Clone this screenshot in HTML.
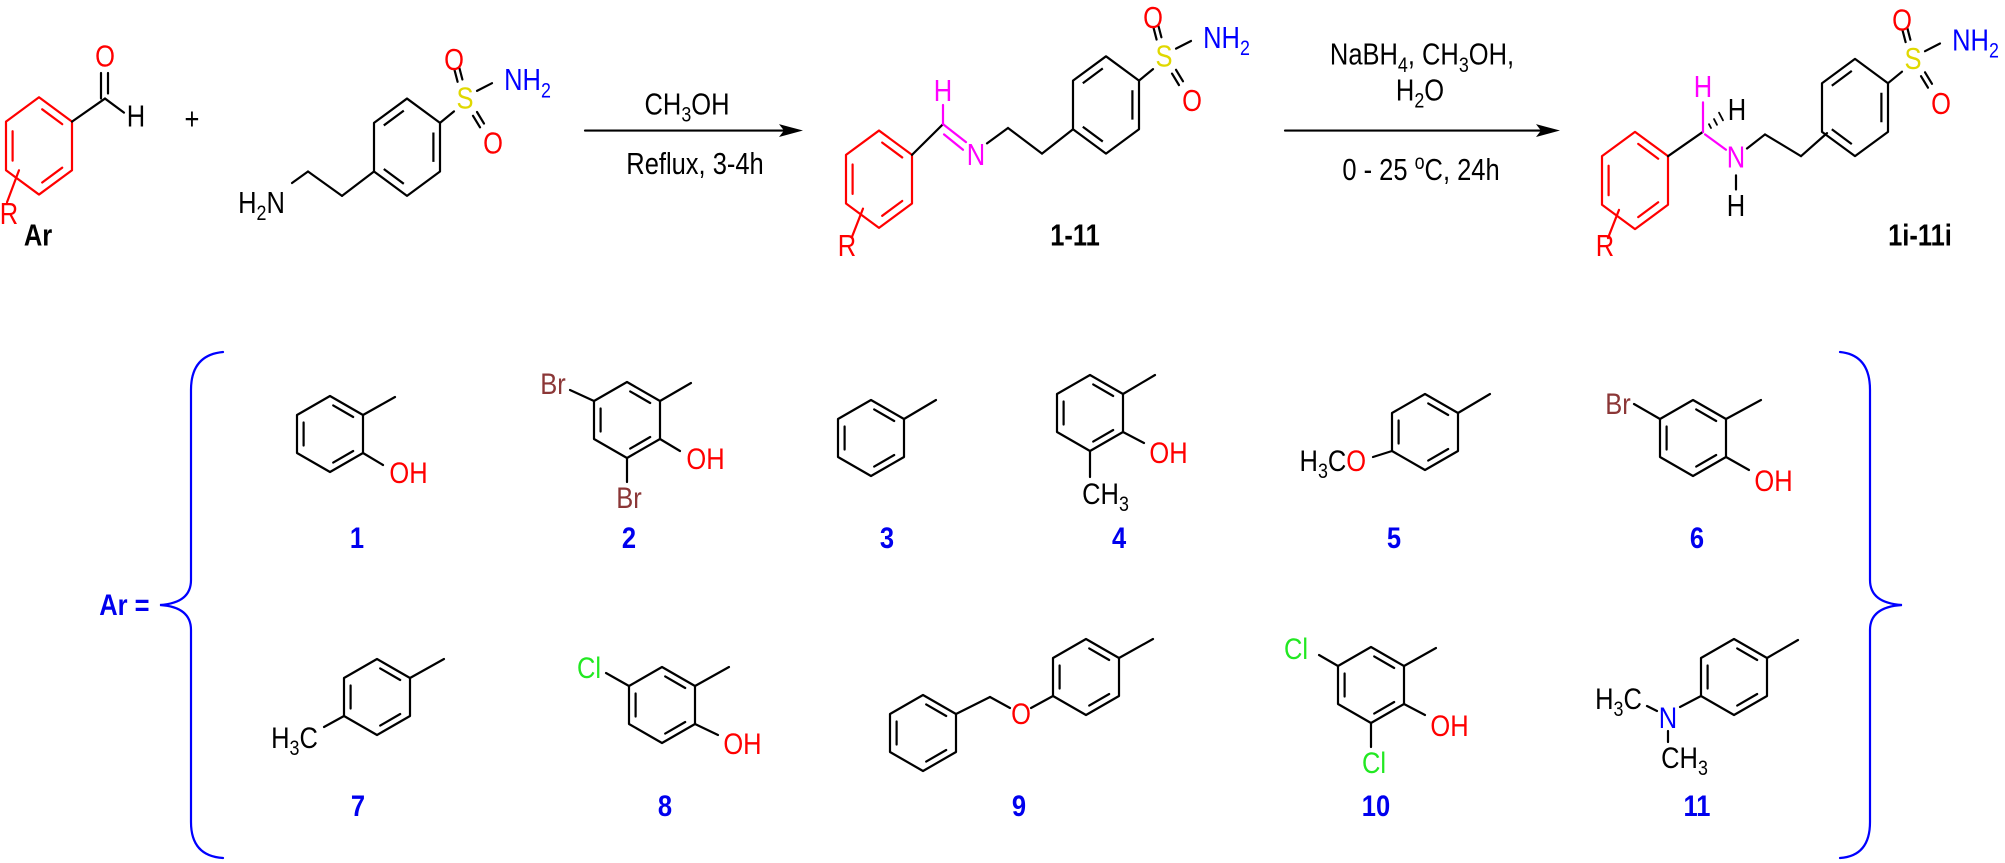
<!DOCTYPE html>
<html><head><meta charset="utf-8">
<style>
html,body{margin:0;padding:0;background:#fff;}
svg{display:block;}
svg text{font-family:"Liberation Sans",Arial,sans-serif;font-size:30px;transform-box:fill-box;transform-origin:center;transform:scaleX(0.85);}
.top text{transform:scale(0.85,0.8);}
line,polyline,path,polygon{vector-effect:non-scaling-stroke;}
.b{font-weight:bold;}
.lab{font-weight:bold;fill:#0000ee;}
.k{fill:#000}
.r{fill:#ff0000}
.m{fill:#ff00ff}
.bl{fill:#0000ff}
.y{fill:#e0d800}
.br{fill:#8b3636}
.g{fill:#22e822}
</style></head>
<body>
<svg width="2005" height="863" viewBox="0 0 2005 863" xmlns="http://www.w3.org/2000/svg">
<defs>
<g id="ringA" fill="none" stroke="currentColor" stroke-width="2.2" stroke-linejoin="round">
<path d="M0,-38 L33,-19 L33,19 L0,38 L-33,19 L-33,-19 Z"/>
<path d="M3.2,-28.6 L23.2,-17 M-26.4,-11.5 L-26.4,11.5 M3.2,28.6 L23.2,17"/>
</g>
<g id="ringB" fill="none" stroke="currentColor" stroke-width="2.2" stroke-linejoin="round">
<path d="M0,-38 L33,-19 L33,19 L0,38 L-33,19 L-33,-19 Z"/>
<path d="M-3.2,-28.6 L-23.2,-17 M26.4,-11.5 L26.4,11.5 M-3.2,28.6 L-23.2,17"/>
</g>
</defs>

<!-- ================= TOP (scaled vertically) ================= -->
<g class="top" transform="scale(1,1.28)">
<g stroke="#000" stroke-width="2.2" fill="none" stroke-linecap="round">
<use href="#ringA" x="39" y="114" color="#ff0000"/>
<line x1="7" y1="158" x2="19" y2="133" stroke="#ff0000"/>
<line x1="72" y1="95" x2="105" y2="77"/>
<line x1="101" y1="77" x2="101" y2="57"/>
<line x1="108" y1="73" x2="108" y2="57"/>
<line x1="105" y1="77" x2="124" y2="88"/>

<line x1="374" y1="134" x2="342" y2="153"/>
<line x1="342" y1="153" x2="308" y2="134"/>
<line x1="308" y1="134" x2="292" y2="143"/>

<line x1="585" y1="102" x2="790" y2="102"/>

<use href="#ringA" x="879" y="140" color="#ff0000"/>
<line x1="852" y1="185" x2="863" y2="163" stroke="#ff0000"/>
<line x1="912" y1="121" x2="943" y2="97"/>
<line x1="943" y1="97" x2="943" y2="82" stroke="#ff00ff"/>
<line x1="943" y1="97" x2="966" y2="111" stroke="#ff00ff"/>
<line x1="944" y1="105" x2="963" y2="117" stroke="#ff00ff"/>
<polyline points="987,112 1008,100 1042,120 1073,101"/>

<line x1="1285" y1="102" x2="1550" y2="102"/>

<use href="#ringA" x="1635" y="141" color="#ff0000"/>
<line x1="1608" y1="186" x2="1619" y2="164" stroke="#ff0000"/>
<line x1="1668" y1="122" x2="1703" y2="103"/>
<line x1="1703" y1="103" x2="1703" y2="80" stroke="#ff00ff"/>
<line x1="1705" y1="105" x2="1726" y2="117" stroke="#ff00ff"/>
<line x1="1709" y1="97" x2="1711" y2="100" stroke-width="1.8"/>
<line x1="1714" y1="93" x2="1717" y2="97.5" stroke-width="1.8"/>
<line x1="1719" y1="88" x2="1723" y2="94" stroke-width="1.8"/>
<line x1="1736" y1="137" x2="1736" y2="148"/>
<polyline points="1747,116 1765,105 1801,122 1827,104"/>
</g>

<polygon points="803,102 779,97 784,102 779,107" fill="#000"/>
<polygon points="1560,102 1536,97 1541,102 1536,107" fill="#000"/>

<g transform="translate(407,115)">
<use href="#ringB" x="0" y="0" color="#000"/>
<g stroke="#000" stroke-width="2.2" stroke-linecap="round">
<line x1="33" y1="-19" x2="47" y2="-28"/>
<line x1="55.4" y1="-52.9" x2="52.4" y2="-61.9"/><line x1="50.6" y1="-51.1" x2="47.6" y2="-60.1"/>
<line x1="70" y1="-27.5" x2="77" y2="-18.5"/><line x1="66" y1="-24.5" x2="73" y2="-15.5"/>
<line x1="70" y1="-44" x2="85" y2="-50"/>
</g>
<text x="58" y="-28" text-anchor="middle" class="y">S</text>
<text x="47" y="-58" text-anchor="middle" class="r">O</text>
<text x="86" y="7" text-anchor="middle" class="r">O</text>
<text x="93" y="-43" class="bl">NH<tspan font-size="21" dy="7">2</tspan></text>
</g>
<g transform="translate(1106,82)">
<use href="#ringB" x="0" y="0" color="#000"/>
<g stroke="#000" stroke-width="2.2" stroke-linecap="round">
<line x1="33" y1="-19" x2="47" y2="-28"/>
<line x1="55.4" y1="-52.9" x2="52.4" y2="-61.9"/><line x1="50.6" y1="-51.1" x2="47.6" y2="-60.1"/>
<line x1="70" y1="-27.5" x2="77" y2="-18.5"/><line x1="66" y1="-24.5" x2="73" y2="-15.5"/>
<line x1="70" y1="-44" x2="85" y2="-50"/>
</g>
<text x="58" y="-28" text-anchor="middle" class="y">S</text>
<text x="47" y="-58" text-anchor="middle" class="r">O</text>
<text x="86" y="7" text-anchor="middle" class="r">O</text>
<text x="93" y="-43" class="bl">NH<tspan font-size="21" dy="7">2</tspan></text>
</g>
<g transform="translate(1855,84)">
<use href="#ringB" x="0" y="0" color="#000"/>
<g stroke="#000" stroke-width="2.2" stroke-linecap="round">
<line x1="33" y1="-19" x2="47" y2="-28"/>
<line x1="55.4" y1="-52.9" x2="52.4" y2="-61.9"/><line x1="50.6" y1="-51.1" x2="47.6" y2="-60.1"/>
<line x1="70" y1="-27.5" x2="77" y2="-18.5"/><line x1="66" y1="-24.5" x2="73" y2="-15.5"/>
<line x1="70" y1="-44" x2="85" y2="-50"/>
</g>
<text x="58" y="-28" text-anchor="middle" class="y">S</text>
<text x="47" y="-58" text-anchor="middle" class="r">O</text>
<text x="86" y="7" text-anchor="middle" class="r">O</text>
<text x="93" y="-43" class="bl">NH<tspan font-size="21" dy="7">2</tspan></text>
</g>

<text x="9" y="177" text-anchor="middle" class="r">R</text>
<text x="105" y="54" text-anchor="middle" class="r">O</text>
<text x="136" y="101" text-anchor="middle" class="k">H</text>
<text x="192" y="103" text-anchor="middle" class="k">+</text>
<text x="289" y="168" text-anchor="end" class="k">H<tspan font-size="21" dy="7">2</tspan><tspan dy="-7">N</tspan></text>
<text x="38" y="194" text-anchor="middle" class="b k">Ar</text>

<text x="687" y="91" text-anchor="middle" class="k">CH<tspan font-size="21" dy="7">3</tspan><tspan dy="-7">OH</tspan></text>
<text x="695" y="138" text-anchor="middle" class="k">Reflux, 3-4h</text>

<text x="847" y="202" text-anchor="middle" class="r">R</text>
<text x="943" y="81" text-anchor="middle" class="m">H</text>
<text x="976" y="131" text-anchor="middle" class="m">N</text>
<text x="1075" y="194" text-anchor="middle" class="b k">1-11</text>

<text x="1422" y="52" text-anchor="middle" class="k">NaBH<tspan font-size="21" dy="7">4</tspan><tspan dy="-7">, CH</tspan><tspan font-size="21" dy="7">3</tspan><tspan dy="-7">OH,</tspan></text>
<text x="1420" y="80" text-anchor="middle" class="k">H<tspan font-size="21" dy="7">2</tspan><tspan dy="-7">O</tspan></text>
<text x="1421" y="143" text-anchor="middle" class="k">0 - 25 <tspan font-size="21" dy="-11">o</tspan><tspan dy="11">C, 24h</tspan></text>

<text x="1605" y="202" text-anchor="middle" class="r">R</text>
<text x="1703" y="78" text-anchor="middle" class="m">H</text>
<text x="1737" y="96" text-anchor="middle" class="k">H</text>
<text x="1736" y="133" text-anchor="middle" class="m">N</text>
<text x="1736" y="171" text-anchor="middle" class="k">H</text>
<text x="1920" y="194" text-anchor="middle" class="b k">1i-11i</text>
</g>

<!-- ================= BOTTOM ================= -->
<g stroke="#000" stroke-width="2.2" fill="none" stroke-linecap="round">
<path d="M223,352 Q191,355 191,390 L191,580 Q191,603 160,605 Q191,607 191,630 L191,822 Q191,856 223,858" stroke="#0000ff"/>
<path d="M1840,352 Q1870,355 1870,390 L1870,580 Q1870,603 1902,605 Q1870,607 1870,630 L1870,822 Q1870,856 1840,858" stroke="#0000ff"/>

<use href="#ringA" x="330" y="434" color="#000"/>
<line x1="363" y1="415" x2="395" y2="397"/>
<line x1="363" y1="453" x2="383" y2="465"/>

<use href="#ringA" x="627" y="420" color="#000"/>
<line x1="660" y1="401" x2="691" y2="383"/>
<line x1="594" y1="401" x2="570" y2="390"/>
<line x1="660" y1="439" x2="680" y2="451"/>
<line x1="627" y1="458" x2="627" y2="482"/>

<use href="#ringA" x="871" y="438" color="#000"/>
<line x1="904" y1="419" x2="936" y2="400"/>

<use href="#ringA" x="1090" y="413" color="#000"/>
<line x1="1123" y1="394" x2="1155" y2="375"/>
<line x1="1123" y1="432" x2="1144" y2="443"/>
<line x1="1090" y1="451" x2="1090" y2="477"/>

<use href="#ringA" x="1425" y="432" color="#000"/>
<line x1="1458" y1="413" x2="1490" y2="394"/>
<line x1="1392" y1="451" x2="1373" y2="457"/>

<use href="#ringA" x="1693" y="438" color="#000"/>
<line x1="1726" y1="419" x2="1761" y2="400"/>
<line x1="1660" y1="419" x2="1634" y2="404"/>
<line x1="1726" y1="457" x2="1749" y2="470"/>

<use href="#ringA" x="377" y="697" color="#000"/>
<line x1="410" y1="678" x2="444" y2="659"/>
<line x1="344" y1="716" x2="324" y2="727"/>

<use href="#ringA" x="662" y="705" color="#000"/>
<line x1="695" y1="686" x2="729" y2="667"/>
<line x1="629" y1="686" x2="606" y2="673"/>
<line x1="695" y1="724" x2="718" y2="735"/>

<use href="#ringA" x="923" y="733" color="#000"/>
<line x1="956" y1="714" x2="990" y2="697"/>
<line x1="990" y1="697" x2="1010" y2="708"/>
<use href="#ringA" x="1086" y="677" color="#000"/>
<line x1="1031" y1="708" x2="1053" y2="696"/>
<line x1="1119" y1="658" x2="1153" y2="639"/>

<use href="#ringA" x="1371" y="685" color="#000"/>
<line x1="1404" y1="666" x2="1436" y2="648"/>
<line x1="1338" y1="666" x2="1319" y2="655"/>
<line x1="1404" y1="704" x2="1425" y2="715"/>
<line x1="1371" y1="723" x2="1371" y2="747"/>

<use href="#ringA" x="1734" y="677" color="#000"/>
<line x1="1767" y1="658" x2="1798" y2="640"/>
<line x1="1701" y1="696" x2="1680" y2="707"/>
<line x1="1647" y1="706" x2="1657" y2="711"/>
<line x1="1668" y1="731" x2="1668" y2="742"/>
</g>

<text x="154" y="615" text-anchor="end" class="lab">Ar =</text>

<text x="386" y="483" class="r">OH</text>
<text x="357" y="548" text-anchor="middle" class="lab">1</text>

<text x="553" y="394" text-anchor="middle" class="br">Br</text>
<text x="683" y="469" class="r">OH</text>
<text x="629" y="508" text-anchor="middle" class="br">Br</text>
<text x="629" y="548" text-anchor="middle" class="lab">2</text>

<text x="887" y="548" text-anchor="middle" class="lab">3</text>

<text x="1146" y="463" class="r">OH</text>
<text x="1078" y="504" class="k">CH<tspan font-size="21" dy="7">3</tspan></text>
<text x="1119" y="548" text-anchor="middle" class="lab">4</text>

<text x="1372" y="471" text-anchor="end" class="k">H<tspan font-size="21" dy="7">3</tspan><tspan dy="-7">C</tspan><tspan class="r">O</tspan></text>
<text x="1394" y="548" text-anchor="middle" class="lab">5</text>

<text x="1618" y="414" text-anchor="middle" class="br">Br</text>
<text x="1751" y="491" class="r">OH</text>
<text x="1697" y="548" text-anchor="middle" class="lab">6</text>

<text x="322" y="748" text-anchor="end" class="k">H<tspan font-size="21" dy="7">3</tspan><tspan dy="-7">C</tspan></text>
<text x="358" y="816" text-anchor="middle" class="lab">7</text>

<text x="589" y="678" text-anchor="middle" class="g">Cl</text>
<text x="720" y="754" class="r">OH</text>
<text x="665" y="816" text-anchor="middle" class="lab">8</text>

<text x="1021" y="724" text-anchor="middle" class="r">O</text>
<text x="1019" y="816" text-anchor="middle" class="lab">9</text>

<text x="1296" y="659" text-anchor="middle" class="g">Cl</text>
<text x="1427" y="736" class="r">OH</text>
<text x="1374" y="773" text-anchor="middle" class="g">Cl</text>
<text x="1376" y="816" text-anchor="middle" class="lab">10</text>

<text x="1646" y="709" text-anchor="end" class="k">H<tspan font-size="21" dy="7">3</tspan><tspan dy="-7">C</tspan></text>
<text x="1668" y="728" text-anchor="middle" class="bl">N</text>
<text x="1657" y="768" class="k">CH<tspan font-size="21" dy="7">3</tspan></text>
<text x="1697" y="816" text-anchor="middle" class="lab">11</text>
</svg>
</body></html>
